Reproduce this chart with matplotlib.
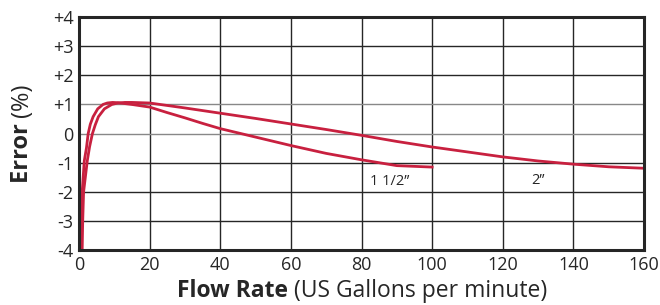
import matplotlib.pyplot as plt
from matplotlib.offsetbox import TextArea, HPacker, VPacker, AnchoredOffsetbox

# 1 1/2" meter
flow_15 = [0.6, 0.75, 0.9, 1.5, 2.1, 2.6, 3.2, 4, 5.3, 6.8, 8, 9.5, 11, 15, 20, 25, 30, 35, 40,
           50, 60, 70, 80, 90, 100]
err_15 = [-4, -3, -2, -0.93, -0.5, 0, 0.32, 0.58, 0.85, 1.0, 1.05, 1.07, 1.06, 1.0, 0.91, 0.72, 0.54, 0.35, 0.17,
          -0.12, -0.41, -0.68, -0.9, -1.1, -1.15]

# 2" meter
flow_2 = [0.9, 1.05, 1.3, 2.35, 3.0, 3.8, 4.6, 5.5, 7.2, 9.3, 11, 13, 15, 20, 30, 40, 50, 60, 70, 80,
          90, 100, 110, 120, 130, 140, 150, 160]
err_2 = [-4, -3, -2, -0.93, -0.45, 0, 0.3, 0.58, 0.85, 1.0, 1.05, 1.07, 1.07, 1.05, 0.88, 0.7, 0.52, 0.33, 0.14, -0.06,
         -0.27, -0.46, -0.63, -0.8, -0.94, -1.05, -1.14, -1.19]

x_ticks = [0, 20, 40, 60, 80, 100, 120, 140, 160]
y_ticks = [-4, -3, -2, -1, 0, 1, 2, 3, 4]
y_labels = ["-4", "-3", "-2", "-1", "0", "+1", "+2", "+3", "+4"]

red = "#c8203f"
ink = "#262626"
plt.rcParams['font.family'] = ['Open Sans', 'DejaVu Sans']

fig = plt.figure(figsize=(6.6, 3.05), dpi=100)
ax = fig.add_axes([0.1197, 0.180, 0.8561, 0.764])

ax.plot(flow_15, err_15, color=red, lw=2, solid_joinstyle="round")
ax.plot(flow_2, err_2, color=red, lw=2, solid_joinstyle="round")
ax.text(88, -1.63, "1 1/2\u201d", ha="center", va="center", fontsize=10.5, color=ink)
ax.text(130, -1.6, "2\u201d", ha="center", va="center", fontsize=10.5, color=ink)

ax.set_xlim(0, 160)
ax.set_ylim(-4, 4)
ax.set_xticks(x_ticks)
ax.set_yticks(y_ticks)
ax.set_yticklabels(y_labels)
ax.tick_params(length=0, labelsize=13, colors=ink, pad=4)
ax.grid(True, color=ink, lw=1)
for v in (0, 1):
    ax.get_ygridlines()[y_ticks.index(v)].set_color("#888888")
ax.set_axisbelow(True)
for s in ax.spines.values():
    s.set_linewidth(2.2)
    s.set_color(ink)

# x label: bold + normal
xl = HPacker(children=[TextArea("Flow Rate", textprops=dict(fontsize=16.5, fontweight="bold", color=ink)),
                       TextArea(" (US Gallons per minute)", textprops=dict(fontsize=16.5, color=ink))],
             align="baseline", pad=0, sep=0)
fig.add_artist(AnchoredOffsetbox(loc="center", child=xl, frameon=False, pad=0,
                                 bbox_to_anchor=(0.548, 0.045), bbox_transform=fig.transFigure))

# y label: rotated, bold + normal
yl = VPacker(children=[TextArea("(%)", textprops=dict(fontsize=17, color=ink, rotation=90)),
                       TextArea("Error ", textprops=dict(fontsize=17, fontweight="bold", color=ink, rotation=90))],
             align="center", pad=0, sep=0)
fig.add_artist(AnchoredOffsetbox(loc="center", child=yl, frameon=False, pad=0,
                                 bbox_to_anchor=(0.033, 0.564), bbox_transform=fig.transFigure))

fig.savefig("out.png", dpi=100)
